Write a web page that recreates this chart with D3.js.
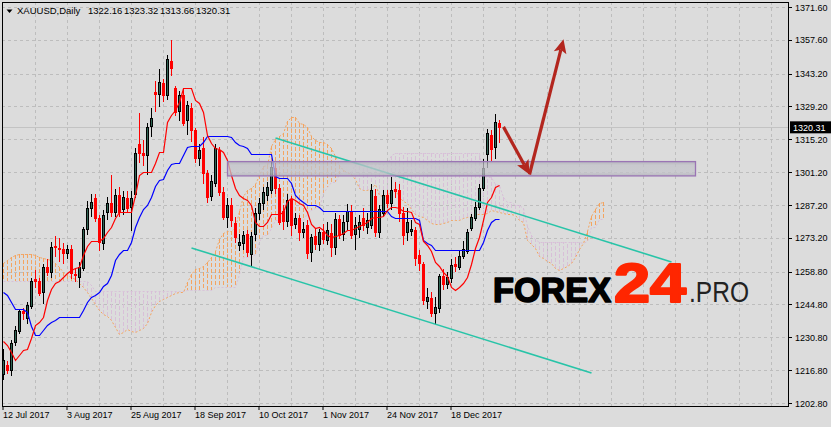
<!DOCTYPE html>
<html>
<head>
<meta charset="utf-8">
<script src="https://cdn.jsdelivr.net/npm/d3@7"></script>
<style>
  html, body { margin: 0; padding: 0; background: #dcdcdc; }
  svg { display: block; }
  text { font-family: "Liberation Sans", Arial, sans-serif; }
</style>
</head>
<body>
<script>
// chart header
const symbolName = 'XAUUSD,Daily'
const lastQuote = ['1322.16', '1323.32', '1313.66', '1320.31']
const lastPrice = 1320.31

// time axis
const dateLabels = ['12 Jul 2017', '3 Aug 2017', '25 Aug 2017', '18 Sep 2017', '10 Oct 2017', '1 Nov 2017', '24 Nov 2017', '18 Dec 2017']
const dateBars = [0, 16, 32, 48, 64, 80, 96, 112]

// price axis
const priceTicks = [1371.60, 1357.60, 1343.20, 1329.20, 1315.20, 1301.20, 1287.20, 1273.20, 1258.80, 1244.80, 1230.80, 1216.80, 1202.80]

// daily candles, bar 0 = 12 Jul 2017
const open = [
  1215, 1219, 1217, 1229, 1233.5, 1242, 1239, 1244, 1255.5, 1254.8,
  1250.1, 1260.8, 1258.6, 1269.8, 1268.8, 1268.4, 1266.7, 1268.4, 1258, 1256.5,
  1260.4, 1277, 1286, 1290, 1281.6, 1271, 1284, 1288, 1284.3, 1291.5,
  1285.5, 1290.2, 1286.4, 1292, 1313, 1309.3, 1308.5, 1321, 1335.5, 1334.3,
  1339.3, 1334.3, 1348.6, 1337, 1327, 1334, 1323.5, 1328.6, 1319.2, 1307.2,
  1311.5, 1300.9, 1291, 1296.7, 1310.7, 1292.8, 1282.2, 1287, 1279.5, 1270.5,
  1271, 1274.8, 1266.5, 1275, 1283.8, 1288, 1291.5, 1293.6, 1303, 1294.5,
  1284.5, 1280.4, 1289.7, 1279, 1281.6, 1275.7, 1278.7, 1267, 1274, 1270.5,
  1275.5, 1272.5, 1275.3, 1269.3, 1281.2, 1275, 1280.4, 1284.6, 1274.5, 1277,
  1281.5, 1278, 1278.7, 1291, 1275.5, 1284, 1291.5, 1288, 1294, 1293.6,
  1284, 1275.7, 1276, 1276.6, 1265.9, 1262, 1246.3, 1247.5, 1241.2, 1243.5,
  1257, 1253.5, 1256, 1262, 1261, 1265.5, 1267.5, 1277.5, 1282, 1286.5,
  1294.5, 1309, 1317, 1312, 1322.16
]
const high = [
  1226, 1220.5, 1229.5, 1235.6, 1243, 1243.5, 1246, 1256, 1259.5, 1256,
  1262, 1264, 1271.5, 1274, 1273, 1271, 1270, 1270, 1260, 1263,
  1278, 1289, 1292, 1292, 1283, 1285, 1290.5, 1300, 1294, 1295,
  1293, 1293, 1293, 1311.5, 1326.3, 1315, 1322, 1328.5, 1340, 1345,
  1341, 1351, 1357.5, 1338, 1336, 1337, 1331.5, 1330.5, 1320, 1313,
  1316, 1302, 1300, 1313, 1312, 1295, 1290, 1290, 1282, 1275,
  1276, 1276.5, 1275.5, 1286, 1290, 1295, 1297, 1306, 1305, 1296,
  1287, 1292, 1291, 1284, 1283, 1280, 1281, 1275, 1277.5, 1277,
  1279, 1280, 1279, 1284, 1283, 1283, 1287.5, 1287, 1282, 1283,
  1286, 1284, 1296, 1294, 1287, 1293.5, 1293.5, 1299, 1297, 1296,
  1286.5, 1286, 1281, 1278, 1268, 1263, 1252, 1250, 1248, 1258,
  1260, 1258.5, 1264, 1265, 1268, 1272, 1277, 1283.5, 1288.5, 1296,
  1307, 1319.5, 1319, 1326, 1323.32
]
const low = [
  1212.5, 1215, 1214.5, 1227, 1232, 1238, 1236.5, 1243, 1252, 1248.5,
  1245, 1257, 1256, 1265, 1263, 1262, 1264, 1255.5, 1254.5, 1252,
  1259, 1274.5, 1282, 1280, 1267.5, 1268, 1281, 1282, 1282, 1282,
  1283, 1284, 1276, 1290, 1305, 1304, 1300, 1316, 1327, 1329,
  1331, 1332, 1342, 1325, 1323, 1321, 1317, 1314, 1305, 1304,
  1296, 1288, 1289, 1295, 1291, 1281, 1277.5, 1278, 1271, 1267.5,
  1268, 1265, 1261, 1272, 1281, 1285, 1289, 1292, 1292, 1278.5,
  1276.6, 1278, 1274, 1277, 1272, 1273, 1264, 1263, 1268, 1267.5,
  1270.5, 1270, 1265, 1266, 1272.5, 1272, 1276, 1272.5, 1268, 1273,
  1276, 1275, 1277, 1273.5, 1273, 1282, 1286, 1285, 1290, 1280,
  1270, 1272, 1274, 1261, 1259, 1244.5, 1243, 1239.5, 1236.5, 1241,
  1251, 1251.5, 1254, 1258.5, 1259.5, 1264, 1266.5, 1276, 1280.5, 1285,
  1293, 1303, 1305.5, 1307, 1313.66
]
const close = [
  1221, 1217, 1228.4, 1234, 1242, 1241.2, 1244.6, 1254.8, 1254.5, 1249.7,
  1260.8, 1258.6, 1269.3, 1269.3, 1268.4, 1266.7, 1268.4, 1258.2, 1257.4, 1260.8,
  1277, 1285.9, 1288.5, 1281.6, 1271.4, 1283, 1288, 1284, 1291.5, 1284.3,
  1290.6, 1286, 1290.2, 1309.5, 1309.3, 1308.5, 1320.5, 1324.3, 1334.5, 1339.6,
  1334.3, 1349.5, 1345.6, 1326.8, 1334, 1322, 1329.8, 1319.2, 1307.2, 1310.7,
  1300.9, 1290.6, 1297.4, 1311.5, 1292.8, 1282.2, 1287.2, 1280.5, 1273.6, 1271.6,
  1274.5, 1267.1, 1274, 1283.8, 1288.1, 1292.7, 1295, 1303.4, 1294.5, 1280,
  1280.4, 1289.3, 1278.7, 1281.6, 1275.7, 1277, 1266.7, 1273.5, 1270.5, 1275.5,
  1272.5, 1276.6, 1269.3, 1281.2, 1274.4, 1280, 1284.6, 1274.5, 1278.5, 1280,
  1278.5, 1281, 1293.6, 1275.5, 1285.5, 1291.5, 1288, 1293.6, 1293, 1284,
  1274.5, 1280, 1276.8, 1264.7, 1262.5, 1246.5, 1248, 1241.2, 1243.7, 1257,
  1253.5, 1256.5, 1261.5, 1261, 1265.5, 1268.5, 1275.5, 1282, 1286.5, 1294.5,
  1303, 1318, 1311, 1322.5, 1320.31
]

// Ichimoku lines
const tenkan = [
  1229.2, 1227.5, 1224.5, 1221.1, 1223.3, 1225.4, 1225.8, 1230.5, 1236.1, 1237.3,
  1239.5, 1246.7, 1251.4, 1254.0, 1254.8, 1256.5, 1258.2, 1259.5, 1260.4, 1260.8,
  1265.9, 1269.7, 1271.9, 1271.9, 1271.9, 1273.1, 1275.7, 1277.8, 1281.7, 1284.2,
  1284.2, 1284.2, 1284.2, 1291.5, 1300.0, 1301.3, 1301.3, 1301.3, 1305.1, 1309.8,
  1309.8, 1322.6, 1325.6, 1327.7, 1331.1, 1337.1, 1337.1, 1337.1, 1332.0, 1330.7,
  1326.9, 1317.0, 1313.6, 1311.5, 1311.1, 1309.8, 1306.4, 1300.0, 1294.5, 1291.5,
  1290.2, 1289.3, 1287.2, 1280.0, 1278.3, 1278.3, 1280.0, 1283.4, 1283.4, 1283.4,
  1284.2, 1288.9, 1290.2, 1289.3, 1288.1, 1287.2, 1284.2, 1279.1, 1277.4, 1277.8,
  1276.6, 1274.4, 1273.6, 1274.0, 1274.4, 1275.3, 1276.6, 1276.6, 1277.4, 1278.3,
  1279.1, 1280.0, 1281.7, 1282.1, 1282.1, 1282.5, 1285.1, 1286.4, 1286.4, 1285.9,
  1284.6, 1284.6, 1284.2, 1280.0, 1279.1, 1271.9, 1270.2, 1267.6, 1262.9, 1261.2,
  1258.6, 1256.9, 1252.3, 1251.0, 1252.3, 1254.0, 1256.5, 1262.1, 1268.9, 1273.6,
  1280.8, 1288.5, 1290.6, 1294.9, 1295.7
]
const kijun = [
  1250.1, 1248.8, 1245.9, 1242.9, 1242.9, 1242.9, 1241.6, 1235.6, 1231.8, 1231.8,
  1233.9, 1236.1, 1237.3, 1238.2, 1239.5, 1239.5, 1239.5, 1239.5, 1239.5, 1239.5,
  1242.4, 1245.9, 1248.0, 1248.8, 1250.1, 1252.7, 1254.0, 1257.4, 1263.8, 1266.3,
  1268.0, 1268.0, 1271.4, 1277.8, 1282.1, 1285.5, 1287.2, 1290.6, 1295.3, 1297.9,
  1298.3, 1302.1, 1304.7, 1305.1, 1305.1, 1308.5, 1311.9, 1312.4, 1312.4, 1312.4,
  1314.1, 1316.6, 1316.6, 1316.6, 1316.6, 1316.6, 1316.6, 1316.2, 1314.1, 1312.8,
  1312.4, 1311.5, 1308.9, 1308.9, 1308.9, 1308.9, 1308.9, 1308.9, 1299.6, 1298.7,
  1298.7, 1298.7, 1296.6, 1291.5, 1289.8, 1288.5, 1287.2, 1287.2, 1287.2, 1286.4,
  1284.6, 1284.6, 1284.6, 1284.6, 1284.6, 1284.6, 1284.6, 1284.6, 1284.6, 1284.6,
  1284.6, 1284.6, 1284.6, 1284.6, 1284.6, 1284.6, 1284.6, 1282.5, 1281.7, 1281.7,
  1281.7, 1281.7, 1281.7, 1281.7, 1280.8, 1272.3, 1271.0, 1270.2, 1268.0, 1268.0,
  1268.0, 1268.0, 1268.0, 1268.0, 1268.0, 1268.0, 1268.0, 1268.0, 1268.0, 1268.0,
  1271.4, 1276.6, 1280.0, 1281.2, 1281.2
]
// cloud spans run 26 bars past the last candle
const spanA = [
  1262.5, 1263.8, 1265.0, 1265.9, 1266.3, 1266.3, 1266.3, 1266.3, 1265.9, 1265.0,
  1264.6, 1264.2, 1263.8, 1262.5, 1260.8, 1258.6, 1257.4, 1256.5, 1255.7, 1254.0,
  1252.3, 1250.1, 1247.6, 1245.0, 1242.4, 1240.7, 1239.7, 1238.2, 1235.2, 1232.0,
  1233.1, 1234.2, 1233.7, 1233.1, 1234.0, 1234.6, 1236.7, 1241.4, 1244.4, 1246.1,
  1247.2, 1248.0, 1248.9, 1249.5, 1250.0, 1250.2, 1254.2, 1257.8, 1260.0, 1260.4,
  1261.0, 1262.9, 1264.9, 1267.6, 1272.8, 1275.3, 1276.1, 1276.1, 1277.8, 1284.7,
  1291.1, 1293.4, 1294.3, 1296.0, 1300.2, 1303.9, 1304.1, 1312.4, 1315.2, 1316.4,
  1318.1, 1322.8, 1324.5, 1324.8, 1322.2, 1321.6, 1320.5, 1316.8, 1315.1, 1314.1,
  1313.9, 1313.2, 1311.5, 1308.1, 1304.3, 1302.2, 1301.3, 1300.4, 1298.1, 1294.5,
  1293.6, 1293.6, 1294.5, 1296.2, 1291.5, 1291.1, 1291.5, 1293.8, 1293.4, 1290.4,
  1289.0, 1287.9, 1285.7, 1283.2, 1282.3, 1282.1, 1280.6, 1279.5, 1279.1, 1279.3,
  1279.5, 1280.0, 1280.6, 1280.6, 1281.0, 1281.5, 1281.9, 1282.3, 1283.2, 1283.4,
  1283.4, 1283.6, 1284.9, 1284.5, 1284.1, 1283.8, 1283.2, 1283.2, 1283.0, 1280.9,
  1280.0, 1272.1, 1270.6, 1268.9, 1265.5, 1264.6, 1263.3, 1262.5, 1260.2, 1259.5,
  1260.2, 1261.0, 1262.3, 1265.1, 1268.5, 1270.8, 1276.1, 1282.6, 1285.3, 1288.1,
  1288.5
]
const spanB = [
  1254.8, 1254.8, 1254.8, 1254.8, 1254.8, 1254.8, 1254.8, 1254.8, 1254.8, 1254.8,
  1254.8, 1254.8, 1254.8, 1254.8, 1254.8, 1254.8, 1254.8, 1254.8, 1254.8, 1254.8,
  1254.8, 1254.8, 1253.1, 1250.5, 1250.5, 1250.5, 1250.5, 1250.5, 1250.5, 1250.5,
  1250.5, 1250.5, 1250.5, 1250.5, 1250.5, 1250.5, 1250.5, 1250.5, 1250.5, 1250.5,
  1250.5, 1250.5, 1250.5, 1250.5, 1250.5, 1250.5, 1251.0, 1251.0, 1251.0, 1251.0,
  1251.0, 1251.0, 1251.0, 1252.3, 1252.3, 1252.3, 1252.3, 1252.3, 1252.3, 1257.8,
  1265.2, 1265.2, 1265.2, 1266.3, 1272.0, 1274.5, 1274.5, 1277.5, 1280.8, 1280.8,
  1280.8, 1280.8, 1280.8, 1280.8, 1280.8, 1280.8, 1283.8, 1285.0, 1286.0, 1286.0,
  1292.3, 1294.8, 1297.0, 1297.0, 1300.3, 1301.3, 1301.3, 1301.3, 1304.8, 1304.8,
  1304.8, 1304.8, 1304.8, 1304.8, 1304.8, 1304.8, 1304.8, 1308.3, 1309.3, 1309.3,
  1309.3, 1309.3, 1309.3, 1309.3, 1309.3, 1309.3, 1309.3, 1309.3, 1309.3, 1309.3,
  1309.3, 1309.3, 1309.3, 1309.3, 1309.3, 1309.3, 1309.3, 1309.3, 1309.3, 1309.3,
  1299.5, 1299.0, 1299.0, 1296.3, 1295.8, 1290.5, 1288.5, 1288.5, 1287.0, 1287.0,
  1286.0, 1278.3, 1274.5, 1272.8, 1271.3, 1271.3, 1271.3, 1271.3, 1271.3, 1271.3,
  1271.3, 1271.3, 1271.3, 1271.3, 1271.3, 1270.8, 1271.8, 1278.0, 1278.0, 1281.3,
  1281.3
]

// drawn objects: [bar, price]
const channelUpper = [[68, 1315.8], [167, 1262.9]]
const channelLower = [[47, 1268.9], [147, 1215.6]]
const zoneBars = [56, 173]
const zonePrices = [1305.7, 1299.6]
const forecast = [[125, 1320.5], [131.5, 1300.2], [140, 1357.9]]

const width = 831, height = 427
const plot = { left: 2, top: 2, right: 788, bottom: 406 }

const x = d3.scaleLinear().domain([0, 196]).range([3.5, 787.5])
const y = d3.scaleLinear().domain([1202.8, 1371.6]).range([403, 7])

const svg = d3.select('body').append('svg')
    .attr('width', width)
    .attr('height', height)

svg.append('rect')
    .attr('width', width).attr('height', height)
    .attr('fill', '#dcdcdc')

let defs = svg.append('defs')
defs.append('clipPath').attr('id', 'plotclip')
  .append('rect')
    .attr('x', plot.left).attr('y', plot.top)
    .attr('width', plot.right - plot.left).attr('height', plot.bottom - plot.top)

let grad = defs.append('linearGradient').attr('id', 'zonefill')
    .attr('x1', 0).attr('y1', 0).attr('x2', 0).attr('y2', 1)
grad.append('stop').attr('offset', '0%').attr('stop-color', '#a9a9b3')
grad.append('stop').attr('offset', '25%').attr('stop-color', '#c2c2c9')
grad.append('stop').attr('offset', '75%').attr('stop-color', '#c4c4cb')
grad.append('stop').attr('offset', '100%').attr('stop-color', '#adadb6')

// grid
let grid = svg.append('g').attr('stroke', '#bdbdbd').attr('stroke-dasharray', '3,3')
    .attr('shape-rendering', 'crispEdges')
grid.selectAll('.hg')
  .data(priceTicks)
  .join('line')
    .attr('x1', plot.left).attr('x2', plot.right)
    .attr('y1', d => Math.round(y(d)) + 0.5)
    .attr('y2', d => Math.round(y(d)) + 0.5)
grid.selectAll('.vg')
  .data(d3.range(8, 196, 8))
  .join('line')
    .attr('x1', d => x(d)).attr('x2', d => x(d))
    .attr('y1', plot.top).attr('y2', plot.bottom)

let chart = svg.append('g').attr('clip-path', 'url(#plotclip)')

// current price line
chart.append('line')
    .attr('x1', plot.left).attr('x2', plot.right)
    .attr('y1', Math.round(y(lastPrice)) + 0.5).attr('y2', Math.round(y(lastPrice)) + 0.5)
    .attr('stroke', '#c3c3c3')

// cloud hatch
chart.append('g')
    .attr('shape-rendering', 'crispEdges')
  .selectAll('line')
  .data(spanA.map((a, i) => ({ i, a, b: spanB[i] })))
  .join('line')
    .attr('x1', d => x(d.i)).attr('x2', d => x(d.i))
    .attr('y1', d => Math.round(y(d.a))).attr('y2', d => Math.round(y(d.b)))
    .attr('stroke', d => d.a >= d.b ? '#f4a460' : '#d8bfd8')
    .attr('stroke-dasharray', '4,2')

let line = d3.line().x((d, i) => x(i)).y(d => Math.round(y(d)) + 0.5)

chart.append('path').datum(spanB)
    .attr('d', line).attr('fill', 'none')
    .attr('stroke', '#d8bfd8').attr('stroke-dasharray', '2,2')
chart.append('path').datum(spanA)
    .attr('d', line).attr('fill', 'none')
    .attr('stroke', '#f4a460').attr('stroke-dasharray', '2,2')

// candles
let bars = open.map((o, i) => ({ i, o, h: high[i], l: low[i], c: close[i], up: close[i] >= o }))

let candles = chart.append('g').attr('shape-rendering', 'crispEdges')
candles.selectAll('.wick')
  .data(bars)
  .join('line')
    .attr('x1', d => x(d.i)).attr('x2', d => x(d.i))
    .attr('y1', d => Math.round(y(d.h))).attr('y2', d => Math.round(y(d.l)))
    .attr('stroke', d => d.up ? '#000' : '#ff0000')
candles.selectAll('.body')
  .data(bars)
  .join('rect')
    .attr('x', d => x(d.i) - 1)
    .attr('width', 2)
    .attr('y', d => Math.round(y(Math.max(d.o, d.c))) + 0.5)
    .attr('height', d => Math.max(1, Math.round(Math.abs(y(d.o) - y(d.c)))))
    .attr('fill', d => d.up ? '#2f6453' : '#ff0000')
    .attr('stroke', d => d.up ? '#000' : '#ff0000')

// tenkan / kijun
chart.append('path').datum(kijun)
    .attr('d', line).attr('fill', 'none').attr('stroke', '#0000ff').attr('stroke-width', 1.2)
chart.append('path').datum(tenkan)
    .attr('d', line).attr('fill', 'none').attr('stroke', '#ff0000').attr('stroke-width', 1.2)

// channel
for (let seg of [channelUpper, channelLower]) {
  chart.append('line')
      .attr('x1', x(seg[0][0])).attr('y1', y(seg[0][1]))
      .attr('x2', x(seg[1][0])).attr('y2', y(seg[1][1]))
      .attr('stroke', '#28c4a8').attr('stroke-width', 1.6)
}

// zone
chart.append('rect')
    .attr('x', x(zoneBars[0])).attr('y', y(zonePrices[0]))
    .attr('width', x(zoneBars[1]) - x(zoneBars[0]))
    .attr('height', y(zonePrices[1]) - y(zonePrices[0]))
    .attr('fill', 'url(#zonefill)').attr('fill-opacity', 0.75)
    .attr('stroke', '#9a74b4').attr('stroke-width', 1.3)

// forecast arrows
function arrow(a, b) {
  let x0 = x(a[0]), y0 = y(a[1]), x1 = x(b[0]), y1 = y(b[1])
  let len = Math.hypot(x1 - x0, y1 - y0)
  let ux = (x1 - x0) / len, uy = (y1 - y0) / len
  let hl = 14, hw = 6.5
  let bx = x1 - ux * hl, by = y1 - uy * hl
  chart.append('line')
      .attr('x1', x0).attr('y1', y0)
      .attr('x2', bx + ux * 3).attr('y2', by + uy * 3)
      .attr('stroke', '#b3261e').attr('stroke-width', 3.2)
  chart.append('path')
      .attr('d', `M${x1},${y1}L${bx - uy * hw},${by + ux * hw}L${bx + ux * 3},${by + uy * 3}L${bx + uy * hw},${by - ux * hw}Z`)
      .attr('fill', '#b3261e')
}
arrow(forecast[0], forecast[1])
arrow(forecast[1], forecast[2])

// frame
svg.append('rect')
    .attr('x', plot.left + 0.5).attr('y', plot.top + 0.5)
    .attr('width', plot.right - plot.left).attr('height', plot.bottom - plot.top)
    .attr('fill', 'none').attr('stroke', '#000')

// price axis
let yAxis = svg.append('g')
yAxis.selectAll('line')
  .data(priceTicks)
  .join('line')
    .attr('x1', plot.right).attr('x2', plot.right + 4)
    .attr('y1', d => Math.round(y(d)) + 0.5).attr('y2', d => Math.round(y(d)) + 0.5)
    .attr('stroke', '#000')
yAxis.selectAll('text')
  .data(priceTicks)
  .join('text')
    .attr('x', 795).attr('y', d => y(d) + 3.5)
    .attr('font-size', 9).attr('fill', '#000')
    .text(d => d.toFixed(2))

svg.append('rect')
    .attr('x', 790).attr('y', y(lastPrice) - 6)
    .attr('width', 41).attr('height', 12)
    .attr('fill', '#000')
svg.append('text')
    .attr('x', 793).attr('y', y(lastPrice) + 3.5)
    .attr('font-size', 9).attr('fill', '#fff')
    .text(lastPrice.toFixed(2))

// time axis
let xAxis = svg.append('g')
xAxis.selectAll('line')
  .data(dateBars)
  .join('line')
    .attr('x1', d => x(d) - 0.5).attr('x2', d => x(d) - 0.5)
    .attr('y1', plot.bottom).attr('y2', plot.bottom + 4)
    .attr('stroke', '#000')
xAxis.selectAll('text')
  .data(dateBars)
  .join('text')
    .attr('x', d => x(d) - 0.5).attr('y', 418)
    .attr('font-size', 9).attr('fill', '#000')
    .text((d, i) => dateLabels[i])

// header
svg.append('path').attr('d', 'M6.5,9.5L12.5,9.5L9.5,13Z').attr('fill', '#000')
svg.append('text').attr('x', 17).attr('y', 14).attr('font-size', 9.5).text(symbolName)
let quoteX = [88, 124, 160, 196]
svg.selectAll('.q')
  .data(lastQuote)
  .join('text')
    .attr('x', (d, i) => quoteX[i]).attr('y', 14)
    .attr('font-size', 9.5)
    .text(d => d)

// watermark
let logo = svg.append('g').attr('font-family', 'Roboto, "Open Sans", Lato, "DejaVu Sans", sans-serif')
logo.append('text')
    .attr('x', 493).attr('y', 302)
    .attr('font-size', 35).attr('font-weight', 900).attr('fill', '#000')
    .attr('stroke', '#000').attr('stroke-width', 1.6).attr('stroke-linejoin', 'round')
    .attr('textLength', 118).attr('lengthAdjust', 'spacingAndGlyphs')
    .text('FOREX')
logo.append('text')
    .attr('x', 614).attr('y', 302)
    .attr('font-size', 55).attr('font-weight', 900).attr('fill', '#ff2600')
    .attr('stroke', '#ff2600').attr('stroke-width', 2.2).attr('stroke-linejoin', 'round')
    .attr('textLength', 72).attr('lengthAdjust', 'spacingAndGlyphs')
    .text('24')
logo.append('text')
    .attr('x', 689).attr('y', 302)
    .attr('font-size', 29).attr('font-weight', 300).attr('fill', '#222')
    .attr('textLength', 60).attr('lengthAdjust', 'spacingAndGlyphs')
    .text('.PRO')
</script>
</body>
</html>
